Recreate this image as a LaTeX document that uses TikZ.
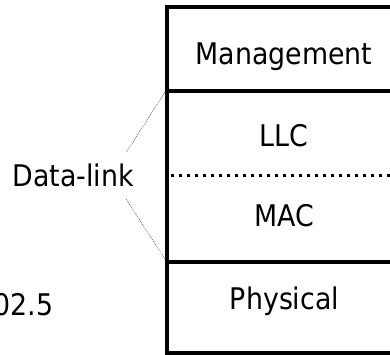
\documentclass[tikz,border=0pt]{standalone}
\usepackage{fontspec}
\setmainfont{DejaVu Sans}[FakeStretch=0.9]
\begin{document}
\begin{tikzpicture}[x=1pt,y=-1pt,
  thick line/.style={line width=4pt, line cap=rect},
  label text/.style={font=\fontsize{29.8}{32}\selectfont, anchor=base, inner sep=0pt},
  brace line/.style={line width=0.6pt, gray!70!black, dash pattern=on 1pt off 1pt}]
\useasboundingbox (0,0) rectangle (390,354);
\fill[white] (0,0) rectangle (390,354);
% stack outline
\draw[thick line] (400,7) -- (167,7) -- (167,352.5) -- (400,352.5);
\draw[thick line] (167,90.7) -- (400,90.7);
\draw[thick line] (167,261.7) -- (400,261.7);
\draw[line width=3pt, dash pattern=on 3.3pt off 4.7pt] (170.5,175.3) -- (400,175.3);
% labels
\node[label text] (mgmt) at (284,64.3) {Management};
\node[label text] (llc) at (283.5,146.5) {LLC};
\node[label text] (mac) at (284,226.7) {MAC};
\node[label text] (phy) at (284.5,309.3) {Physical};
\node[label text] (dl) at (73,186.7) {Data-link};
\node[label text, anchor=base east] (std) at (53.5,315) {802.5};
% brace lines
\coordinate (dlU) at (126.5,152);
\coordinate (dlL) at (126,199);
\coordinate (boxU) at (165,92);
\coordinate (boxL) at (165,259);
\draw[brace line] (dlU) -- (boxU);
\draw[brace line] (dlL) -- (boxL);
\end{tikzpicture}
\end{document}
